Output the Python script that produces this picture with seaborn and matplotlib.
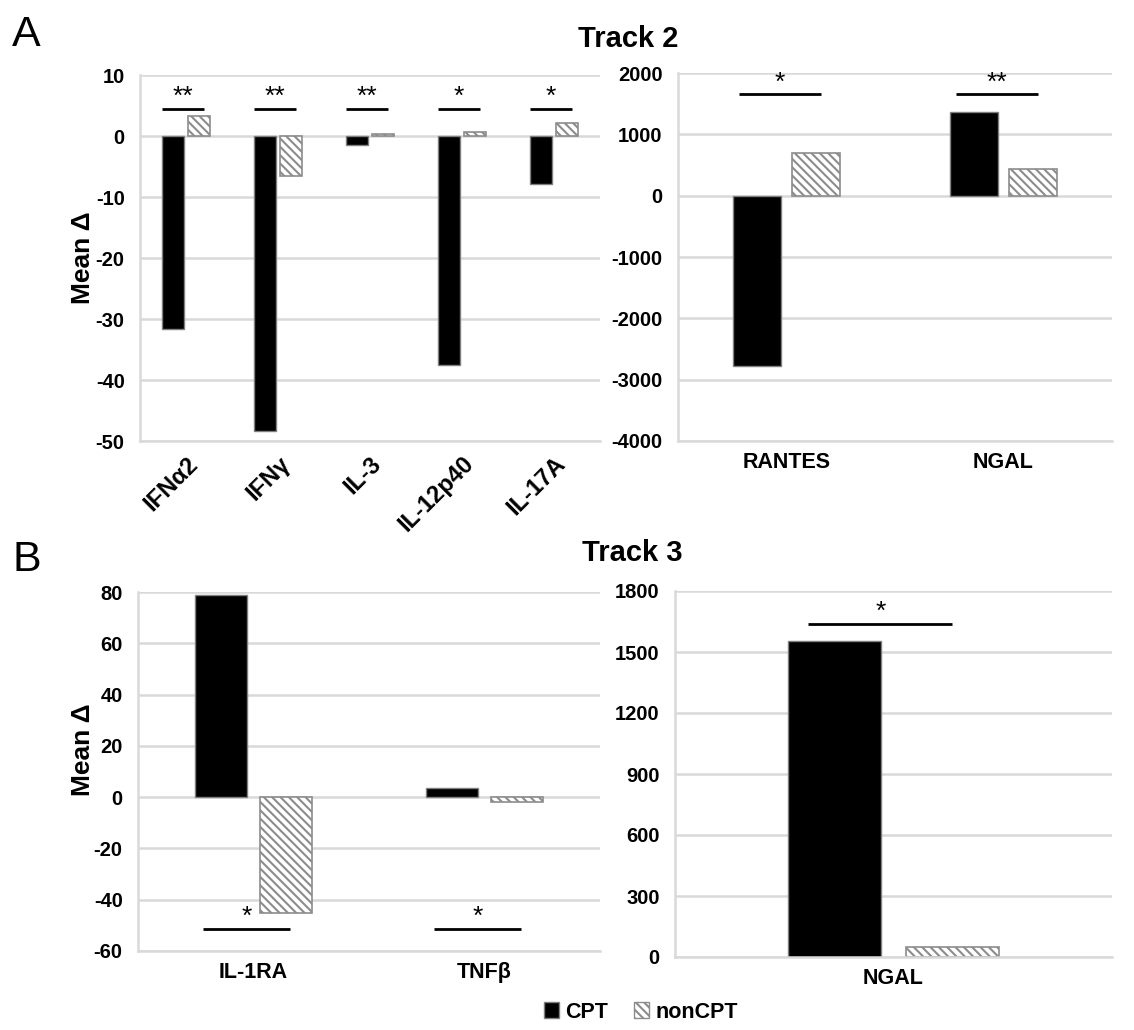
import pandas as pd
import matplotlib.pyplot as plt
import seaborn as sns
from matplotlib.patches import Patch
from matplotlib.ticker import MultipleLocator

# ---- data ----
groups = ["CPT", "nonCPT"]

t2_small_cats = ["IFNα2", "IFNγ", "IL-3", "IL-12p40", "IL-17A"]
t2_small_cpt = [-31.6, -48.3, -1.5, -37.5, -7.9]
t2_small_non = [3.2, -6.6, 0.3, 0.7, 2.2]
t2_small_sig = ["**", "**", "**", "*", "*"]
t2_small_sig_y = [4.4, 4.4, 4.4, 4.4, 4.4]

t2_big_cats = ["RANTES", "NGAL"]
t2_big_cpt = [-2780, 1360]
t2_big_non = [690, 430]
t2_big_sig = ["*", "**"]
t2_big_sig_y = [1650, 1650]

t3_small_cats = ["IL-1RA", "TNFβ"]
t3_small_cpt = [78.8, 3.4]
t3_small_non = [-45.0, -2.0]
t3_small_sig = ["*", "*"]
t3_small_sig_y = [-51.5, -51.5]

t3_big_cats = ["NGAL"]
t3_big_cpt = [1556]
t3_big_non = [48]
t3_big_sig = ["*"]
t3_big_sig_y = [1638]

GRID = "#d9d9d9"
HATCH_GRAY = "#8c8c8c"
HATCH = "\\\\\\\\"


def make_df(cats, cpt, non):
    rows = []
    for c, a, b in zip(cats, cpt, non):
        rows.append({"cytokine": c, "group": "CPT", "delta": a})
        rows.append({"cytokine": c, "group": "nonCPT", "delta": b})
    return pd.DataFrame(rows)


def draw_panel(ax, cats, cpt, non, sig, sig_y, ylim, major, minor,
               width, gap, sig_len, rotate=False, ylabel=None):
    df = make_df(cats, cpt, non)
    sns.barplot(data=df, x="cytokine", y="delta", hue="group",
                hue_order=groups, palette={"CPT": "black", "nonCPT": "white"},
                width=width, gap=gap, ax=ax, legend=False,
                edgecolor="#7f7f7f", linewidth=1.0, err_kws={"linewidth": 0})
    for p in ax.containers[1]:
        p.set_hatch(HATCH)
        p.set_edgecolor(HATCH_GRAY)
        p.set_linewidth(1.2)

    # significance brackets
    for i, (s, y) in enumerate(zip(sig, sig_y)):
        ax.plot([i - 0.03 - sig_len / 2, i - 0.03 + sig_len / 2], [y, y],
                color="black", linewidth=2, solid_capstyle="butt")
        ax.annotate(s, (i - 0.03, y), xytext=(0, 0), textcoords="offset points",
                    ha="center", va="bottom", fontsize=19, fontweight="normal")

    ax.set_xlim(-0.5, len(cats) - 0.5)
    ax.set_ylim(*ylim)
    ax.yaxis.set_major_locator(MultipleLocator(major))
    ax.yaxis.set_minor_locator(MultipleLocator(minor))
    ax.set_axisbelow(True)
    ax.yaxis.grid(True, which="major", color=GRID, linewidth=1.8)
    for side in ["top", "right"]:
        ax.spines[side].set_visible(False)
    for side in ["left", "bottom"]:
        ax.spines[side].set_color(GRID)
        ax.spines[side].set_linewidth(1.8)
    ax.tick_params(axis="y", which="major", direction="out", length=7,
                   width=1.8, color=GRID, labelsize=14.5, pad=4)
    ax.tick_params(axis="y", which="minor", direction="in", length=5,
                   width=1.5, color=GRID)
    ax.tick_params(axis="x", length=0, labelsize=15.5, pad=8)
    for t in ax.get_yticklabels() + ax.get_xticklabels():
        t.set_fontweight("bold")
    if rotate:
        for t in ax.get_xticklabels():
            t.set_rotation(45)
            t.set_ha("right")
            t.set_rotation_mode("anchor")
            t.set_fontsize(17)
    ax.set_xlabel("")
    if ylabel:
        ax.set_ylabel(ylabel, fontsize=19, fontweight="bold")
    else:
        ax.set_ylabel("")


sns.set_theme(style="white")
plt.rcParams["font.family"] = ["Liberation Sans", "DejaVu Sans"]
plt.rcParams["hatch.linewidth"] = 1.5
plt.rcParams["axes.unicode_minus"] = False
for key in ["text.color", "axes.labelcolor", "xtick.labelcolor", "ytick.labelcolor"]:
    plt.rcParams[key] = "black"

W, H = 1134, 1030
fig = plt.figure(figsize=(W / 100, H / 100), dpi=100)


def px_axes(x0, x1, ytop, ybot):
    return fig.add_axes([x0 / W, 1 - ybot / H, (x1 - x0) / W, (ybot - ytop) / H])


ax1 = px_axes(140, 600, 75, 441)
ax2 = px_axes(678, 1112, 73, 441)
ax3 = px_axes(138, 600, 592, 951)
ax4 = px_axes(675, 1112, 591, 957)

draw_panel(ax1, t2_small_cats, t2_small_cpt, t2_small_non, t2_small_sig, t2_small_sig_y,
           (-50, 10), 10, 2, 0.56, 0.15, 0.46, rotate=True, ylabel="Mean Δ")
draw_panel(ax2, t2_big_cats, t2_big_cpt, t2_big_non, t2_big_sig, t2_big_sig_y,
           (-4000, 2000), 1000, 200, 0.55, 0.2, 0.38)
draw_panel(ax3, t3_small_cats, t3_small_cpt, t3_small_non, t3_small_sig, t3_small_sig_y,
           (-60, 80), 20, 4, 0.56, 0.2, 0.38, ylabel="Mean Δ")
draw_panel(ax4, t3_big_cats, t3_big_cpt, t3_big_non, t3_big_sig, t3_big_sig_y,
           (0, 1800), 300, 60, 0.54, 0.21, 0.33)

ax1.yaxis.set_label_coords(-0.098, 0.5)
ax3.yaxis.set_label_coords(-0.093, 0.56)

fig.text(628 / W, 1 - 39 / H, "Track 2", ha="center", va="center",
         fontsize=21, fontweight="bold")
fig.text(632 / W, 1 - 553 / H, "Track 3", ha="center", va="center",
         fontsize=21, fontweight="bold")
fig.text(12 / W, 1 - 35 / H, "A", ha="left", va="center", fontsize=31)
fig.text(12 / W, 1 - 560 / H, "B", ha="left", va="center", fontsize=31)

handles = [Patch(facecolor="black", edgecolor="#7f7f7f"),
           Patch(facecolor="white", edgecolor=HATCH_GRAY, hatch=HATCH)]
fig.legend(handles, groups, loc="center", bbox_to_anchor=(641 / W, 1 - 1012 / H),
           ncol=2, frameon=False, prop={"size": 15.5, "weight": "bold"},
           handlelength=0.7, handleheight=0.7, handletextpad=0.3, columnspacing=1.2)

fig.savefig("out.png", dpi=100)
